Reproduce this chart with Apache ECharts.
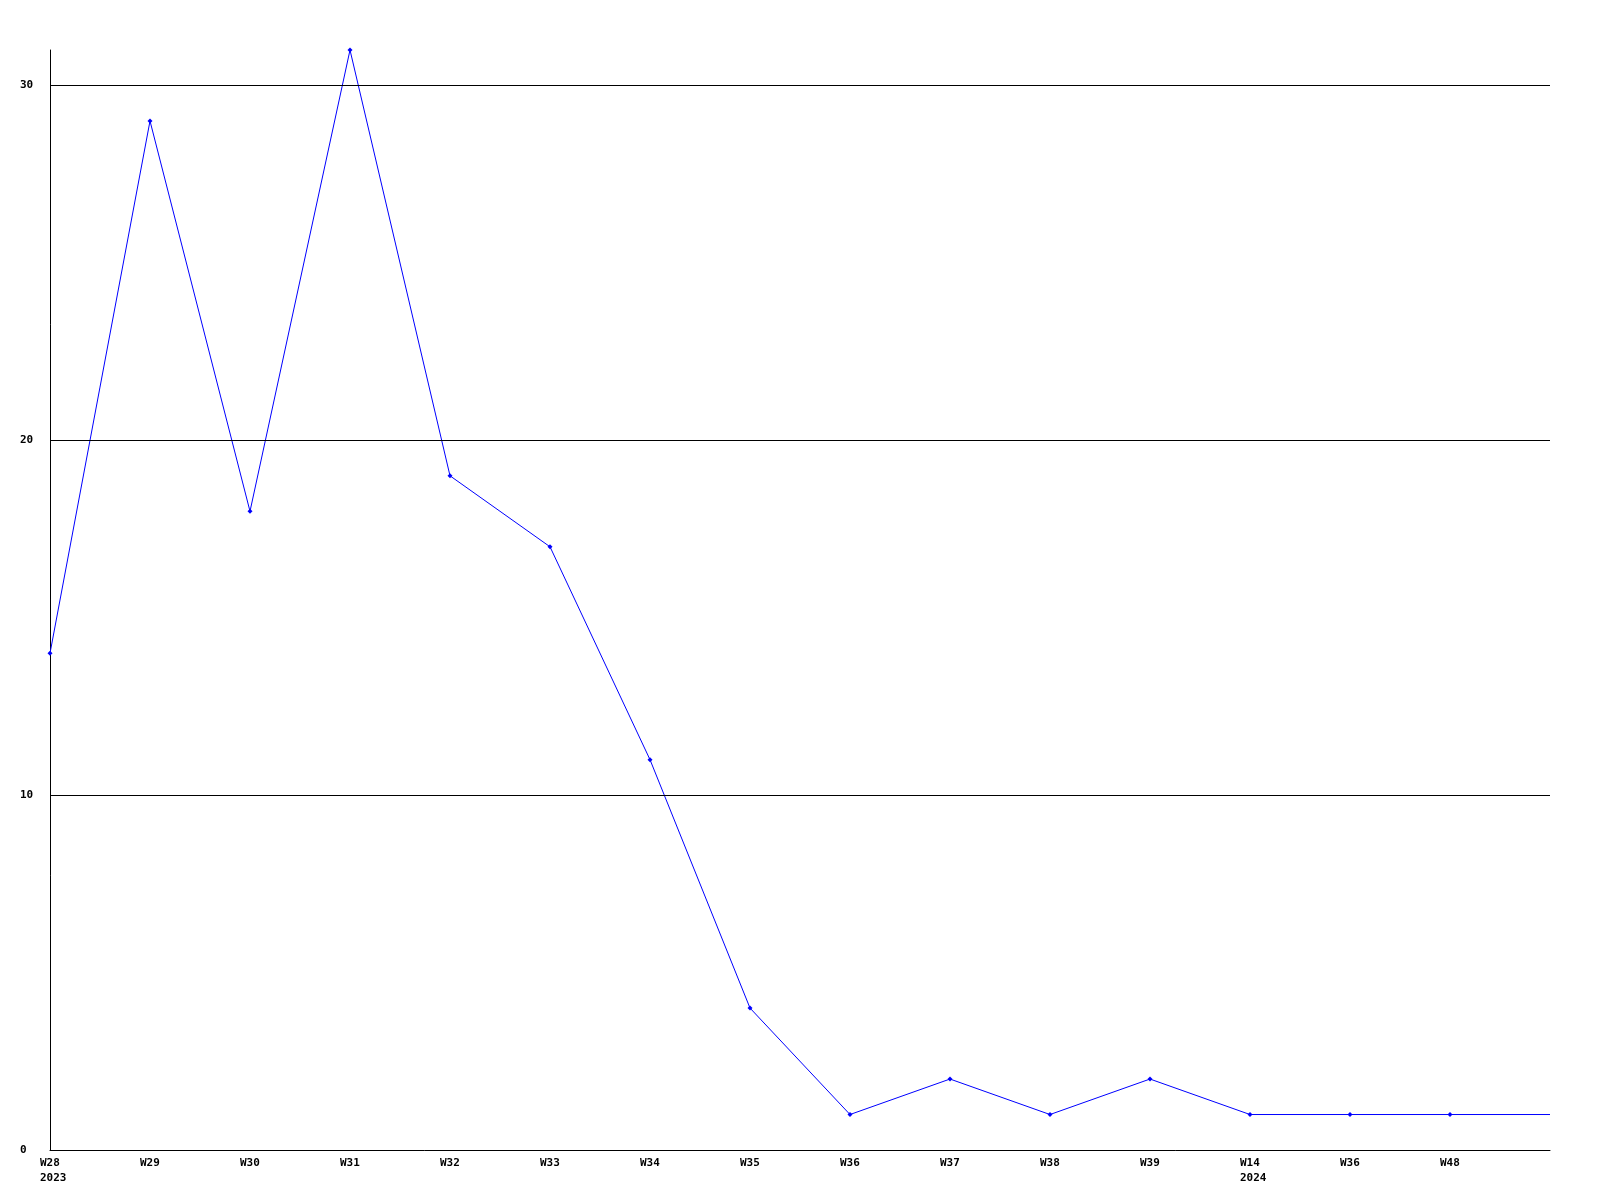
<!DOCTYPE html>
<html>
<head>
<meta charset="utf-8">
<script src="https://cdn.jsdelivr.net/npm/echarts@6/dist/echarts.min.js"></script>
<style>
html,body{margin:0;padding:0;background:#fff;}
#chart{width:1600px;height:1200px;}
</style>
</head>
<body>
<div id="chart"></div>
<script>
// Data
const categories = ["W28\n2023","W29","W30","W31","W32","W33","W34","W35","W36","W37","W38","W39","W14\n2024","W36","W48",""];
const values = [14,29,18,31,19,17,11,4,1,2,1,2,1,1,1,1];
const gridValues = [10,20,30];
const yMax = 31;

const font = '"DejaVu Sans Mono", "Liberation Mono", monospace';
const chart = echarts.init(document.getElementById('chart'), null, {renderer:'canvas'});
const seriesData = values.map((v,i)=> i === values.length-1 ? {value:v, symbol:'none'} : v);
chart.setOption({
  animation:false,
  backgroundColor:'#ffffff',
  grid:{left:50,right:50,top:50,bottom:50},
  xAxis:{
    type:'category',
    data:categories,
    boundaryGap:false,
    axisLine:{lineStyle:{color:'#000',width:1}},
    axisTick:{show:false},
    axisLabel:{
      interval:0,color:'#000',fontFamily:font,fontWeight:'bold',fontSize:11,lineHeight:15,margin:6,verticalAlign:'top',
      width:20,overflow:'none',
      formatter:function(v){return v.split('\n').map(function(s){return '{l|'+s+'}';}).join('\n');},
      rich:{l:{align:'left',color:'#000',fontFamily:font,fontWeight:'bold',fontSize:11,lineHeight:15}}
    },
    splitLine:{show:false}
  },
  yAxis:{
    type:'value',
    min:0,max:yMax,interval:10,
    axisLine:{show:true,lineStyle:{color:'#000',width:1}},
    axisTick:{show:false},
    axisLabel:{color:'#000',fontFamily:font,fontWeight:'bold',fontSize:11,align:'left',margin:30,showMaxLabel:false},
    splitLine:{show:false}
  },
  series:[{
    type:'line',
    data:seriesData,
    lineStyle:{color:'#0000ff',width:1},
    itemStyle:{color:'#0000ff'},
    symbol:'diamond',
    symbolSize:5,
    showSymbol:true,
    clip:false,
    markLine:{
      silent:true,
      symbol:'none',
      label:{show:false},
      lineStyle:{color:'#000',width:1,type:'solid'},
      data:gridValues.map(v=>({yAxis:v}))
    }
  }]
});
</script>
</body>
</html>
